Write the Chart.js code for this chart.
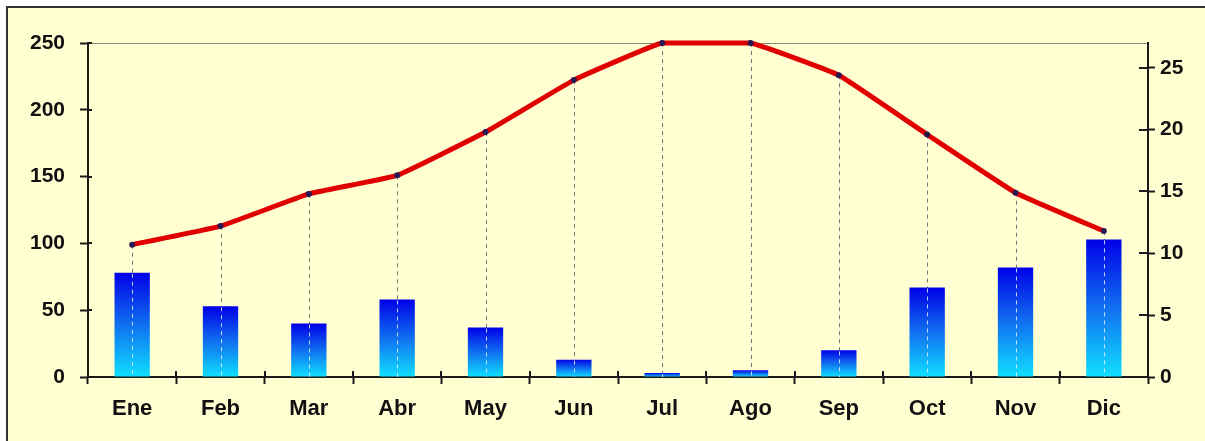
<!DOCTYPE html>
<html>
<head>
<meta charset="utf-8">
<script src="https://cdn.jsdelivr.net/npm/chart.js@4/dist/chart.umd.min.js"></script>
<style>
  html, body { margin: 0; padding: 0; background: #fff; }
  #wrap { width: 1205px; height: 441px; position: relative; }
</style>
</head>
<body>
<div id="wrap"><canvas id="climograma" width="1205" height="441"></canvas></div>
<script>
// climograma: precipitacion (barras, eje izq.) y temperatura (linea, eje der.)
const meses = ['Ene', 'Feb', 'Mar', 'Abr', 'May', 'Jun', 'Jul', 'Ago', 'Sep', 'Oct', 'Nov', 'Dic'];
const precipitacion = [78, 53, 40, 58, 37, 13, 3, 5, 20, 67, 82, 103];
const temperatura = [10.7, 12.2, 14.8, 16.3, 19.8, 24.0, 27, 27, 24.4, 19.6, 14.9, 11.8];
const ticksPrecip = [0, 50, 100, 150, 200, 250];
const ticksTemp = [0, 5, 10, 15, 20, 25];

const FONT = "'Liberation Sans', Arial, sans-serif";
const AXIS_COLOR = '#1a1a1a';

function barGradient(ctx) {
  const chart = ctx.chart;
  const y = chart.scales.y;
  if (!y || ctx.raw == null) return '#0a40f0';
  const top = y.getPixelForValue(ctx.raw);
  const bottom = y.getPixelForValue(0);
  if (!isFinite(top) || !isFinite(bottom) || top === bottom) return '#0a40f0';
  const g = chart.ctx.createLinearGradient(0, top, 0, bottom);
  g.addColorStop(0, '#0000e8');
  g.addColorStop(0.5, '#1070f0');
  g.addColorStop(1, '#10e0ff');
  return g;
}

// fondo crema y marco
const fondo = {
  id: 'fondo',
  beforeDraw(chart) {
    const c = chart.ctx;
    c.save();
    c.fillStyle = '#ffffff';
    c.fillRect(0, 0, chart.width, chart.height);
    c.fillStyle = '#ffffd2';
    c.fillRect(8, 8, chart.width - 8, chart.height - 8);
    c.strokeStyle = '#333333';
    c.lineWidth = 2;
    c.beginPath();
    c.moveTo(7, chart.height);
    c.lineTo(7, 7);
    c.lineTo(chart.width, 7);
    c.stroke();
    // borde superior del area
    const a = chart.chartArea;
    c.strokeStyle = '#8a8a7a';
    c.lineWidth = 1;
    c.beginPath();
    c.moveTo(a.left, a.top + 0.5);
    c.lineTo(a.right, a.top + 0.5);
    c.stroke();
    c.restore();
  }
};

// lineas discontinuas desde cada punto de temperatura hasta el eje
const guias = {
  id: 'guias',
  beforeDatasetsDraw(chart) {
    const c = chart.ctx;
    const meta = chart.getDatasetMeta(1);
    const base = chart.scales.y.getPixelForValue(0);
    c.save();
    c.strokeStyle = '#77777a';
    c.lineWidth = 1;
    c.setLineDash([4, 4]);
    meta.data.forEach(pt => {
      const x = Math.round(pt.x) + 0.5;
      c.beginPath();
      c.moveTo(x, pt.y);
      c.lineTo(x, base);
      c.stroke();
    });
    c.restore();
  },
  afterDatasetDraw(chart, args) {
    if (args.index !== 0) return;
    const c = chart.ctx;
    const barras = chart.getDatasetMeta(0).data;
    const puntos = chart.getDatasetMeta(1).data;
    const base = chart.scales.y.getPixelForValue(0);
    c.save();
    c.strokeStyle = 'rgba(225,240,255,0.85)';
    c.lineWidth = 1;
    c.setLineDash([4, 4]);
    puntos.forEach((pt, i) => {
      const b = barras[i];
      if (!b) return;
      const x = Math.round(pt.x) + 0.5;
      c.beginPath();
      c.moveTo(x, b.y + 1);
      c.lineTo(x, base);
      c.stroke();
    });
    c.restore();
  }
};

// parte interior de las marcas de los ejes
const marcas = {
  id: 'marcas',
  afterDraw(chart) {
    const c = chart.ctx;
    const a = chart.chartArea;
    c.save();
    c.strokeStyle = AXIS_COLOR;
    c.lineWidth = 2;
    c.beginPath();
    chart.scales.y.ticks.forEach(t => {
      const y = Math.round(chart.scales.y.getPixelForValue(t.value));
      c.moveTo(a.left, y); c.lineTo(a.left + 4, y);
    });
    chart.scales.y1.ticks.forEach(t => {
      const y = Math.round(chart.scales.y1.getPixelForValue(t.value));
      c.moveTo(a.right, y); c.lineTo(a.right - 9, y);
    });
    const xs = chart.scales.x;
    for (let i = 1; i < meses.length; i++) {
      const x = Math.round((xs.getPixelForTick(i - 1) + xs.getPixelForTick(i)) / 2);
      c.moveTo(x, a.bottom); c.lineTo(x, a.bottom - 6);
    }
    c.stroke();
    c.restore();
  }
};

new Chart(document.getElementById('climograma'), {
  data: {
    labels: meses,
    datasets: [
      {
        type: 'bar',
        label: 'Precipitación (mm)',
        data: precipitacion,
        yAxisID: 'y',
        backgroundColor: barGradient,
        borderWidth: 0,
        barPercentage: 0.4,
        categoryPercentage: 1,
        order: 2
      },
      {
        type: 'line',
        label: 'Temperatura (°C)',
        data: temperatura,
        yAxisID: 'y1',
        borderColor: '#e00000',
        borderWidth: 5,
        tension: 0.1,
        pointRadius: 3,
        pointBorderWidth: 0,
        pointBackgroundColor: '#2a1850',
        clip: false,
        order: 1
      }
    ]
  },
  options: {
    responsive: false,
    animation: false,
    layout: { padding: { left: 10, top: 43, right: 0, bottom: 0 } },
    plugins: { legend: { display: false }, tooltip: { enabled: false } },
    scales: {
      x: {
        offset: true,
        grid: { offset: true, drawOnChartArea: false, tickLength: 7, tickWidth: 2, tickColor: AXIS_COLOR },
        border: { color: AXIS_COLOR, width: 2 },
        ticks: { color: '#111', padding: 12, font: { family: FONT, size: 22, weight: 'bold' } },
        afterFit(s) { s.height = 64; }
      },
      y: {
        position: 'left',
        min: 0, max: 250,
        afterBuildTicks(s) { s.ticks = ticksPrecip.map(v => ({ value: v })); },
        grid: { drawOnChartArea: false, tickLength: 8, tickWidth: 2, tickColor: AXIS_COLOR },
        border: { color: AXIS_COLOR, width: 2 },
        ticks: { color: '#111', padding: 15, font: { family: FONT, size: 21, weight: 'bold' } },
        afterFit(s) { s.width = 78; }
      },
      y1: {
        position: 'right',
        min: 0, max: 27,
        afterBuildTicks(s) { s.ticks = ticksTemp.map(v => ({ value: v })); },
        grid: { drawOnChartArea: false, tickLength: 7, tickWidth: 2, tickColor: AXIS_COLOR },
        border: { color: AXIS_COLOR, width: 2 },
        ticks: { color: '#111', padding: 5, font: { family: FONT, size: 21, weight: 'bold' } },
        afterFit(s) { s.width = 57; }
      }
    }
  },
  plugins: [fondo, guias, marcas]
});
</script>
</body>
</html>
